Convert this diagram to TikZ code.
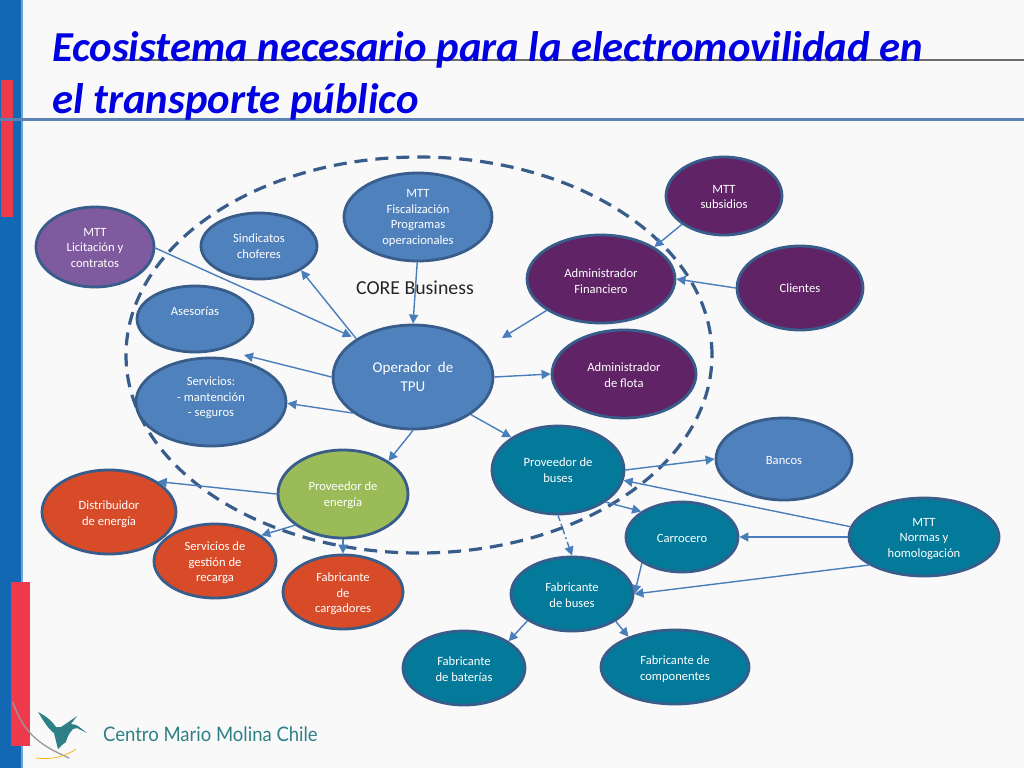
\documentclass[tikz,border=0pt]{standalone}
\usepackage{fontspec}
\setmainfont{Carlito}
\newfontfamily\logofont{Lato}
\usetikzlibrary{shapes.geometric,arrows.meta}
\definecolor{bgc}{HTML}{F9F9FA}
\definecolor{barblue}{HTML}{1268B3}
\definecolor{baredge}{HTML}{6FA3D6}
\definecolor{barred}{HTML}{EE3A4C}
\definecolor{rule}{HTML}{5B82B5}
\definecolor{ttl}{HTML}{0000E0}
\definecolor{edgeb}{HTML}{385D8A}
\definecolor{conn}{HTML}{4A7EBB}
\definecolor{cblue}{HTML}{4F81BD}
\definecolor{cpurple}{HTML}{7F5A9E}
\definecolor{cdeep}{HTML}{5F2366}
\definecolor{cteal}{HTML}{047A9B}
\definecolor{cgreen}{HTML}{9BBB59}
\definecolor{corange}{HTML}{D84B28}
\definecolor{logot}{HTML}{2F7F86}
\tikzset{
  x=1pt,y=1pt,
  bub/.style={ellipse,draw=edgeb,line width=2.8pt,inner sep=0pt},
  txt/.style={align=center,text=white,inner sep=0pt,yshift=-1pt,
    font=\fontsize{12.6}{15.6}\selectfont},
  ttlstyle/.style={anchor=base west,inner sep=0pt,text=ttl,font=\fontsize{42.7}{42.7}\bfseries\itshape\selectfont},
  ar/.style={draw=conn,line width=1.4pt,-{Triangle[length=9pt,width=9pt]}},
  ard/.style={ar,dash pattern=on 6pt off 3pt on 2pt off 3pt},
}
\newcommand{\bubble}[8]{\node[bub,fill=#1,minimum width=#5pt,minimum height=#6pt,label={[txt,#7]center:{#8}}] (#2) at (#3,-#4) {};}
\begin{document}
\begin{tikzpicture}
\useasboundingbox (0,0) rectangle (1024,-768);
\fill[bgc] (0,0) rectangle (1024,-768);
% side bars and rules
\fill[barblue] (0,0) rectangle (21,-768);
\fill[baredge] (21,0) rectangle (22.5,-768);
\fill[barred] (1,-80) rectangle (13,-217);
\fill[barred] (11,-582) rectangle (29.5,-746);
\draw[gray!85!black,line width=1.4pt] (120,-60) -- (1024,-60);
\fill[rule] (0,-117.5) rectangle (1024,-121);
% title
\node[ttlstyle] (t1) at (52,-61) {Ecosistema necesario para la electromovilidad en};
\node[ttlstyle] (t2) at (52,-113) {el transporte público};
% core ellipse
\node[ellipse,draw=edgeb,line width=3.2pt,dash pattern=on 13pt off 8pt,minimum width=586pt,minimum height=396pt,inner sep=0pt] (core) at (419,-355) {};
\node[font=\fontsize{19.8}{22}\selectfont,text=black!85,inner sep=0pt] (corelab) at (415,-288) {CORE Business};
% bubbles
\bubble{cblue}{fisc}{418}{217}{148}{88}{}{MTT\\Fiscalización\\Programas\\operacionales}
\bubble{cpurple}{lic}{95}{247}{118}{80}{}{MTT\\Licitación y\\contratos}
\bubble{cblue}{sind}{259}{246}{116}{66}{yshift=1pt}{Sindicatos\\choferes}
\bubble{cblue}{ases}{195}{319}{116}{66}{yshift=9pt}{Asesorías}
\bubble{cblue}{serv}{211}{402}{150}{88}{yshift=5pt}{Servicios:\\- mantención\\- seguros}
\bubble{cblue}{op}{413}{377}{160}{104}{yshift=1pt,font=\fontsize{15}{19}\selectfont}{Operador\ \ de\\TPU}
\bubble{cdeep}{afin}{601}{279}{148}{88}{yshift=-1pt}{Administrador\\Financiero}
\bubble{cdeep}{aflo}{624}{374}{144}{88}{}{Administrador\\de flota}
\bubble{cdeep}{subs}{724}{196}{116}{78}{}{MTT\\subsidios}
\bubble{cdeep}{clie}{800}{288}{126}{84}{yshift=1pt}{Clientes}
\bubble{cblue}{banc}{784}{459}{136}{82}{}{Bancos}
\bubble{cteal}{pbus}{558}{470}{132}{88}{yshift=1pt}{Proveedor de\\buses}
\bubble{cteal}{carr}{682}{537}{112}{70}{}{Carrocero}
\bubble{cteal}{norm}{924}{537}{150}{78}{yshift=-1pt}{MTT\\Normas y\\homologación}
\bubble{cteal}{fbus}{572}{594}{122}{74}{}{Fabricante\\de buses}
\bubble{cteal}{fbat}{464}{668}{122}{74}{}{Fabricante\\de baterías}
\bubble{cteal}{fcom}{675}{667}{148}{74}{yshift=-1pt}{Fabricante de\\componentes}
\bubble{cgreen}{pene}{343}{494}{130}{88}{}{Proveedor de\\energía}
\bubble{corange}{dist}{109}{512}{134}{84}{yshift=-1pt}{Distribuidor\\de energía}
\bubble{corange}{sges}{215}{561}{122}{74}{yshift=-1pt}{Servicios de\\gestión de\\recarga}
\bubble{corange}{fcar}{343}{592}{120}{74}{yshift=-1pt}{Fabricante\\de\\cargadores}
% free ends
\coordinate (freeA) at (244,-355);
\coordinate (freeB) at (502,-338);
% connectors
\draw[ar] (fisc.269) -- (op.90);
\draw[ar,shorten >=5pt] (lic.359) -- (op.146);
\draw[ar] (op.146) -- (sind.330);
\draw[ar] (op.180) -- (freeA);
\draw[ar] (op.211) -- (serv.359);
\draw[ar] (op.0) -- (aflo.180);
\draw[ar] (op.327) -- (pbus.145);
\draw[ar] (op.270) -- (pene.36);
\draw[ar] (pene.180) -- (dist.32);
\draw[ar] (pene.213) -- (sges.29);
\draw[ar] (pene.270) -- (fcar.90);
\draw[ar] (pbus.0) -- (banc.180);
\draw[ar] (pbus.326) -- (carr.148);
\draw[ar] (norm.172) -- (pbus.351);
\draw[ar] (norm.180) -- (carr.0);
\draw[ar] (norm.207) -- (fbus.0);
\draw[ar] (carr.213) -- (fbus.0);
\draw[ard] (pbus.270) -- (fbus.90);
\draw[ar] (fbus.211) -- (fbat.31);
\draw[ar] (fbus.328) -- (fcom.147);
\draw[ar] (subs.214) -- (afin.31);
\draw[ar] (clie.180) -- (afin.0);
\draw[ar] (afin.210) -- (freeB);
% logo
\draw[gray!80,line width=1.3pt,line cap=round] (13,-702) .. controls (24,-735) and (42,-746) .. (69,-758);
\draw[orange!60!yellow,line width=.7pt] (36,-758) .. controls (50,-760) and (65,-757) .. (76,-749);
\fill[logot] (38,-712) .. controls (46,-716) and (52,-721) .. (56,-727)
  -- (61,-727) -- (67,-723) -- (77,-716) -- (71,-724)
  .. controls (74,-724) and (76,-725) .. (78,-726) -- (87,-733) -- (77,-728) -- (73,-729)
  .. controls (69,-733) and (67,-738) .. (66,-742)
  -- (62,-745) -- (58,-749) -- (56,-741) -- (54,-733)
  .. controls (48,-729) and (43,-720) .. (38,-712) -- cycle;
\node[anchor=base west,inner sep=0pt,text=logot,font=\fontsize{20}{20}\logofont] (logo) at (103,-741) {\scalebox{0.925}[1]{Centro Mario Molina Chile}};
\end{tikzpicture}
\end{document}
